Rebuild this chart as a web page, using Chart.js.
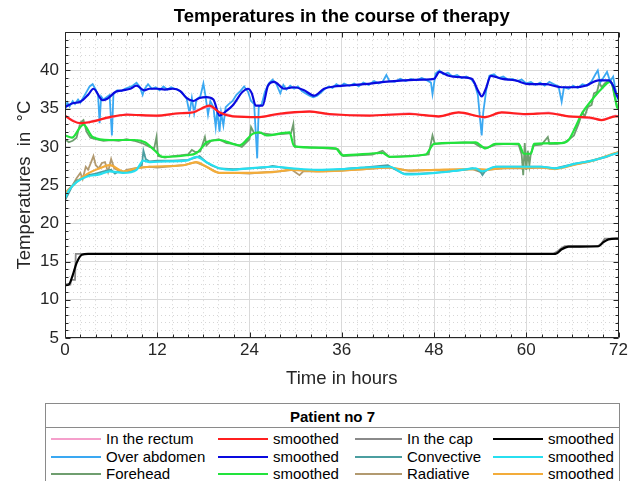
<!DOCTYPE html>
<html>
<head>
<meta charset="utf-8">
<title>Temperatures in the course of therapy</title>
<script src="https://cdn.jsdelivr.net/npm/chart.js@4"></script>
<style>
  body { margin: 0; background: #fff; font-family: "Liberation Sans", Arial, Helvetica, sans-serif; }
  #wrap { position: relative; width: 630px; height: 481px; overflow: hidden; background: #fff; }
  #myChart { position: absolute; left: 0; top: 0; }
  #legend { position: absolute; left: 45px; top: 403px; width: 573px; height: 100px; border: 1px solid #8a8a8a; background: #fff; }
  #legend .ttl { position: absolute; left: 0; top: 0; width: 100%; height: 23px; line-height: 25px; text-align: center;
    font-weight: bold; font-size: 15px; color: #000; border-bottom: 1px solid #8a8a8a; }
  #legend .ln { position: absolute; height: 0; border-top: 2px solid #000; }
  #legend .tx { position: absolute; font-size: 15px; line-height: 18px; color: #000; white-space: nowrap; }
</style>
</head>
<body>
<div id="wrap">
  <canvas id="myChart" width="630" height="400"></canvas>
  <div id="legend"><div class="ttl">Patient no 7</div></div>
</div>
<script>
// tick labels
let xTickLabels = [0, 12, 24, 36, 48, 60, 72]
let yTickLabels = [5, 10, 15, 20, 25, 30, 35, 40]

// In the rectum
let rectumT = [0, 1, 2, 3.5, 5.8, 8, 10, 12, 15, 16.6, 18.8, 20, 22, 25.3, 27.6, 31.8, 34.4, 39.6, 44.8, 48.6, 51.2, 54.6, 56.8, 59.9, 62.9, 65.5, 68.5, 69.8, 71.6, 72]
let rectumV = [34.0, 33.5, 33.0, 33.4, 33.8, 34.3, 34.1, 34.0, 34.4, 34.6, 35.3, 34.6, 34.0, 33.9, 34.2, 34.7, 34.2, 34.1, 34.4, 33.9, 34.5, 33.8, 34.5, 34.2, 34.5, 34.0, 33.7, 33.5, 34.1, 34.0]
let rectumSmT = [0, 1, 2, 3.5, 5.8, 8, 11.9, 14.9, 16.6, 18.8, 20.1, 21.8, 25.3, 27.6, 31.8, 34.4, 39.6, 44.8, 48.6, 51.2, 54.6, 56.8, 59.9, 62.9, 65.5, 68.5, 69.8, 71.6, 72]
let rectumSmV = [34.1, 33.4, 33.1, 33.3, 33.9, 34.2, 34.1, 34.4, 34.5, 35.4, 34.5, 34.0, 33.9, 34.3, 34.6, 34.3, 34.1, 34.3, 34.0, 34.5, 33.9, 34.5, 34.3, 34.4, 34.0, 33.8, 33.5, 34.0, 34.0]

// Over abdomen
let abdomenT = [0, 0.3, 0.6, 1, 1.3, 1.7, 2, 2.4, 2.8, 3.2, 3.6, 4, 4.3, 4.5, 4.7, 5, 5.4, 5.8, 6.1, 6.3,
  6.8, 7.3, 7.8, 8.3, 8.8, 9.3, 9.7, 10.1, 10.3, 10.8, 11.3, 11.8, 12.3, 12.8, 13.3, 13.8, 14.3, 14.8, 15.3, 15.8,
  16.2, 16.5, 16.8, 17.1, 17.6, 18, 18.3, 18.6, 18.9, 19.3, 19.6, 19.8, 20.1, 20.3, 20.6, 20.9, 21.3, 21.8, 22.3, 22.8,
  23.3, 23.8, 24.2, 24.6, 25, 25.2, 25.6, 26, 26.5, 27, 27.5, 28, 28.4, 28.8, 29.3, 29.8, 30.3, 30.8, 31.3, 31.8,
  32.3, 32.8, 33.3, 33.8, 34.3, 34.8, 35.3, 35.8, 36.3, 37, 37.6, 38.2, 38.8, 39.5, 40.2, 40.8, 41.3, 41.8, 42.2, 42.9,
  43.6, 44.3, 45, 45.7, 46.4, 47.1, 47.6, 47.8, 48.2, 48.7, 49.2, 49.8, 50.4, 51, 51.6, 52.2, 52.8, 53.3, 53.7, 54,
  54.2, 54.4, 54.8, 55.2, 55.8, 56.4, 57, 57.6, 58.2, 58.8, 59.4, 60, 60.6, 61.2, 61.8, 62.4, 63, 63.6, 64.2, 64.6,
  64.9, 65.5, 66.1, 66.7, 67.3, 67.9, 68.5, 69, 69.3, 69.6, 70, 70.5, 70.9, 71.3, 71.6, 72]
let abdomenV = [34.8, 35.8, 35.3, 36.0, 35.6, 36.2, 35.8, 36.5, 37.2, 37.9, 38.2, 37.5, 36.8, 33.1, 36.6, 36.2, 36.5, 36.8, 31.5, 36.9,
  37.4, 37.3, 37.6, 37.8, 38.0, 38.4, 37.9, 36.8, 37.5, 38.2, 37.6, 37.8, 37.4, 37.9, 37.5, 37.8, 37.6, 37.4, 37.0, 36.4,
  34.4, 36.4, 34.4, 36.2, 36.6, 38.3, 36.5, 34.2, 36.0, 35.2, 32.6, 34.8, 32.0, 34.5, 32.8, 35.2, 35.6, 36.0, 36.8, 37.3,
  37.9, 37.2, 36.0, 35.6, 28.5, 35.2, 35.6, 37.2, 38.3, 38.8, 38.2, 37.0, 38.1, 37.5, 38.0, 37.6, 37.9, 37.3, 37.0, 36.7,
  36.5, 36.7, 37.1, 37.6, 37.9, 37.7, 38.2, 37.9, 38.3, 38.0, 38.3, 37.9, 38.4, 38.1, 38.6, 38.3, 38.5, 39.4, 38.6, 38.5,
  38.9, 38.6, 38.9, 38.7, 39.0, 38.7, 38.4, 36.9, 39.6, 40.0, 39.5, 39.7, 39.2, 39.4, 39.0, 39.2, 38.9, 38.2, 36.8, 33.5,
  31.5, 34.5, 37.5, 39.3, 39.5, 39.0, 39.2, 38.8, 38.9, 38.6, 38.8, 38.3, 38.5, 38.1, 38.4, 38.0, 38.5, 38.2, 37.9, 35.9,
  37.8, 37.6, 38.0, 37.7, 38.2, 38.0, 38.6, 39.5, 40.0, 38.4, 39.0, 39.8, 38.6, 39.2, 37.5, 36.0]
let abdomenSmT = [0, 1, 2, 3, 3.7, 4.9, 5.5, 6.6, 7.5, 8.5, 9.3, 10.3, 11, 12, 13, 14, 15, 15.8, 16.7, 17.5,
  18.4, 19.3, 20.1, 21, 21.8, 23.1, 23.8, 24.3, 24.8, 25.7, 26.4, 27.2, 28.5, 29.8, 31.1, 32.4, 33.7, 35, 36.3, 38.9,
  41.5, 44.1, 46.7, 48, 48.7, 49.9, 51.6, 52.9, 53.8, 54.2, 54.7, 55.4, 56.9, 58.6, 60.3, 62.5, 64.6, 66.4, 67.7, 69.4,
  70.7, 71.3, 71.7, 72]
let abdomenSmV = [35.2, 35.7, 35.9, 36.8, 37.6, 36.1, 36.3, 37.2, 37.4, 37.6, 38.0, 37.4, 37.6, 37.6, 37.5, 37.6, 37.3, 36.4, 36.0, 36.4,
  36.5, 36.2, 34.1, 34.7, 35.4, 37.2, 37.6, 37.0, 35.4, 35.4, 38.0, 38.5, 37.6, 37.8, 37.4, 36.7, 37.6, 37.9, 38.0, 38.2,
  38.5, 38.7, 38.8, 38.9, 39.8, 39.3, 39.1, 38.9, 37.2, 36.6, 37.5, 39.3, 38.9, 38.7, 38.2, 38.2, 37.8, 37.8, 38.0, 38.7,
  38.7, 38.0, 36.9, 36.3]

// Forehead
let foreheadT = [0, 0.5, 1, 1.5, 2, 2.4, 2.8, 3.3, 4, 5, 6, 7, 8, 9, 10, 11, 11.6, 11.9, 12.1, 13,
  14, 15, 16, 16.5, 17, 17.6, 18.2, 18.4, 19, 20, 21, 22, 23, 24, 24.2, 24.6, 25.5, 27, 28.5, 29.4,
  29.7, 29.9, 31, 32.5, 34, 35.5, 36.2, 38, 40, 41.3, 42.2, 44, 46, 47.3, 47.8, 48.1, 50, 52, 53.2, 54,
  55, 56, 57.5, 59, 59.4, 59.6, 59.8, 60, 60.2, 60.4, 60.6, 61, 62, 62.8, 63, 64, 65, 65.6, 66.2, 66.8,
  67.3, 67.6, 68, 68.5, 68.8, 69.2, 69.5, 69.8, 70.2, 70.6, 70.9, 71.2, 71.5, 71.8, 72]
let foreheadV = [31.0, 30.6, 30.8, 31.2, 33.2, 33.5, 32.0, 31.2, 31.0, 30.8, 30.9, 30.8, 31.0, 30.8, 30.5, 30.0, 29.8, 31.3, 28.8, 28.6,
  28.8, 28.9, 29.0, 29.6, 29.3, 29.4, 31.3, 30.2, 30.8, 31.0, 30.5, 30.4, 30.0, 31.0, 32.6, 31.8, 31.8, 31.6, 31.7, 31.8,
  33.0, 30.0, 30.0, 29.9, 29.8, 29.7, 28.8, 28.9, 29.0, 29.5, 28.7, 28.8, 28.9, 29.0, 31.5, 30.4, 30.5, 30.6, 30.5, 30.0,
  29.9, 30.3, 30.4, 30.3, 29.0, 26.3, 30.5, 27.0, 29.5, 27.6, 29.2, 30.2, 30.3, 31.3, 30.4, 30.4, 30.6, 31.0, 31.5, 33.0,
  34.5, 34.0, 35.2, 35.5, 37.0, 37.2, 38.4, 37.8, 38.3, 38.6, 38.8, 38.0, 36.5, 35.4, 35.0]
let foreheadSmT = [0, 0.9, 2, 2.4, 3.6, 5.8, 9, 10.4, 11.7, 12.7, 15.8, 17.1, 17.9, 18.4, 20.1, 21.8, 22.7, 24.4, 25.3, 26.2,
  29.2, 29.8, 32.8, 35.2, 36.1, 41.3, 42.2, 46.9, 48, 53.4, 54.7, 56, 59, 59.7, 60.6, 61, 64.6, 65.5, 66.4, 67.2,
  68.5, 69.8, 70.9, 71.3, 71.8, 72]
let foreheadSmV = [31.5, 31.2, 32.6, 32.9, 31.3, 30.9, 30.9, 30.6, 29.5, 28.7, 28.9, 29.2, 30.0, 30.6, 30.9, 30.4, 30.2, 31.7, 31.9, 31.5,
  31.9, 30.1, 29.9, 29.8, 28.9, 29.2, 28.7, 29.0, 30.4, 30.6, 29.8, 30.4, 30.4, 29.1, 29.1, 30.4, 30.5, 30.9, 32.6, 34.3,
  36.1, 37.6, 38.5, 37.8, 35.2, 35.0]

// In the cap
let capT = [0, 0.7, 0.8, 1.3, 1.4, 2, 63.5, 64, 64.5, 65, 69.3, 69.8, 70.2, 72]
let capV = [12.0, 12.0, 12.6, 12.6, 16.0, 16.0, 16.0, 16.3, 16.7, 17.0, 17.0, 17.4, 18.0, 18.0]
let capSmT = [0, 0.5, 1, 1.5, 2.2, 3, 63.8, 64.6, 65.5, 69.4, 70, 70.7, 72]
let capSmV = [11.9, 12.0, 13.2, 14.8, 15.9, 16.0, 16.0, 16.6, 16.95, 17.0, 17.5, 17.9, 18.0]

// Convective
let convT = [0, 0.5, 1, 1.5, 2, 3, 4, 5, 6, 6.5, 7, 8, 9, 10, 10.2, 10.5, 11, 12, 14, 16,
  17, 17.5, 18.4, 19, 20, 22, 24, 26, 27, 29, 31, 33, 35, 37, 39, 41, 42, 43, 44, 46,
  48, 50, 52, 53, 54, 54.3, 54.7, 56, 58, 60, 62, 63.7, 65.5, 66.4, 68.5, 70.5, 72]
let convV = [23.0, 24.0, 25.0, 25.6, 25.8, 26.3, 26.5, 26.8, 27.0, 26.5, 26.8, 26.7, 27.0, 27.6, 29.5, 28.4, 28.1, 28.2, 28.2, 28.3,
  28.6, 28.8, 28.0, 27.6, 27.2, 27.1, 27.2, 27.3, 27.5, 27.2, 27.0, 26.9, 27.0, 27.2, 27.3, 27.5, 27.6, 27.0, 26.5, 26.5,
  26.6, 26.8, 27.0, 27.2, 26.8, 26.3, 26.9, 27.4, 27.4, 27.4, 27.4, 27.2, 27.6, 27.8, 28.2, 28.8, 29.3]
let convSmT = [0, 0.5, 1.5, 2.8, 4.5, 5.8, 7.6, 9.3, 10.2, 11, 13.2, 15.8, 17.1, 18.4, 20.1, 21.8, 24, 27.2, 29.5, 32.8,
  36, 39, 42.2, 44.4, 48.2, 51, 53.4, 54.3, 56, 62, 63.7, 66.4, 69, 71.6, 72]
let convSmV = [23.3, 24.3, 25.4, 26.1, 26.4, 26.8, 26.6, 27.0, 28.2, 28.0, 28.1, 28.2, 28.7, 28.0, 27.2, 27.0, 27.2, 27.4, 27.2, 27.0,
  27.1, 27.3, 27.4, 26.4, 26.6, 26.9, 27.2, 26.8, 27.4, 27.4, 27.2, 27.8, 28.3, 29.1, 29.2]

// Radiative
let radT = [0, 0.5, 1, 1.5, 2, 2.3, 2.7, 3, 3.4, 3.7, 4, 4.4, 4.8, 5.2, 5.6, 6, 6.4, 7, 7.5, 8,
  9, 10, 11, 12, 14, 15.5, 17, 18.4, 19.5, 20, 22, 24, 26, 28, 29.5, 30.5, 31, 33, 36, 39,
  42, 44.8, 48, 50, 53, 54.3, 55, 57, 60, 62, 63.7, 65, 66.4, 68, 69, 70.5, 71.6, 72]
let radV = [24.0, 24.5, 25.0, 25.9, 26.6, 25.8, 27.4, 27.0, 28.0, 28.8, 27.6, 27.2, 27.9, 28.0, 26.7, 28.4, 27.2, 26.9, 26.6, 27.0,
  27.2, 27.3, 27.4, 27.3, 27.5, 27.6, 28.0, 27.4, 26.8, 26.6, 26.6, 26.5, 26.7, 26.8, 27.0, 26.3, 26.8, 26.8, 26.9, 27.1,
  27.3, 26.9, 27.0, 27.0, 27.1, 26.6, 27.0, 27.2, 27.2, 27.3, 27.1, 27.4, 27.7, 28.0, 28.3, 28.7, 29.2, 29.3]
let radSmT = [0, 1.5, 2.8, 4.5, 5.8, 7.6, 9.3, 11, 15.4, 17.1, 18.4, 20.1, 24, 27, 29.5, 33, 36, 39, 42.2, 44.8,
  48.2, 53.4, 55, 56.5, 62, 63.7, 66.4, 69, 71.6, 72]
let radSmV = [23.9, 25.4, 26.4, 27.2, 27.6, 26.8, 27.2, 27.4, 27.6, 28.0, 27.4, 26.6, 26.6, 26.7, 27.0, 26.8, 26.9, 27.1, 27.3, 26.9,
  27.0, 27.1, 27.0, 27.2, 27.3, 27.1, 27.7, 28.3, 29.2, 29.3]

let series = [
  { label: "In the rectum", t: rectumT, v: rectumV, color: "#f59fcb", smooth: false },
  { label: "smoothed", t: rectumSmT, v: rectumSmV, color: "#ff1f1f", smooth: true },
  { label: "Over abdomen", t: abdomenT, v: abdomenV, color: "#3aa8f2", smooth: false },
  { label: "smoothed", t: abdomenSmT, v: abdomenSmV, color: "#0a0adf", smooth: true },
  { label: "Forehead", t: foreheadT, v: foreheadV, color: "#6f9e6f", smooth: false },
  { label: "smoothed", t: foreheadSmT, v: foreheadSmV, color: "#22e33c", smooth: true },
  { label: "In the cap", t: capT, v: capV, color: "#8a8a8a", smooth: false },
  { label: "smoothed", t: capSmT, v: capSmV, color: "#000000", smooth: true },
  { label: "Convective", t: convT, v: convV, color: "#4b9ea0", smooth: false },
  { label: "smoothed", t: convSmT, v: convSmV, color: "#27dff0", smooth: true },
  { label: "Radiative", t: radT, v: radV, color: "#b29a70", smooth: false },
  { label: "smoothed", t: radSmT, v: radSmV, color: "#f3ac3a", smooth: true }
]

let fontFam = '"Liberation Sans", Arial, Helvetica, sans-serif'
let textCol = "#262626"

function isOn(value, list) {
  return list.some(l => Math.abs(l - value) < 1e-6)
}

let datasets = series.map(s => ({
  label: s.label,
  data: s.t.map((x, i) => ({ x: x, y: s.v[i] })),
  borderColor: s.color,
  backgroundColor: s.color,
  borderWidth: s.smooth ? 2.2 : 1.8,
  pointRadius: 0,
  tension: 0,
  cubicInterpolationMode: s.smooth ? "monotone" : "default",
  order: s.smooth ? 1 : 2
}))

// axes box with inward tick marks, like the original figure
let boxPlugin = {
  id: "box",
  afterDatasetsDraw(chart) {
    let ctx = chart.ctx
    let a = chart.chartArea
    let sx = chart.scales.x
    let sy = chart.scales.y
    ctx.save()
    ctx.strokeStyle = textCol
    ctx.lineWidth = 1
    ctx.beginPath()
    let l = Math.round(a.left) + 0.5, r = Math.round(a.right) - 0.5
    let t = Math.round(a.top) + 0.5, b = Math.round(a.bottom) - 0.5
    ctx.rect(l, t, r - l, b - t)
    sx.ticks.forEach(tk => {
      let px = Math.round(sx.getPixelForValue(tk.value)) + 0.5
      let len = isOn(tk.value, xTickLabels) ? 5 : 3
      ctx.moveTo(px, b); ctx.lineTo(px, b - len)
      ctx.moveTo(px, t); ctx.lineTo(px, t + len)
    })
    sy.ticks.forEach(tk => {
      let py = Math.round(sy.getPixelForValue(tk.value)) + 0.5
      let len = tk.value % 5 === 0 ? 5 : 3
      ctx.moveTo(l, py); ctx.lineTo(l + len, py)
      ctx.moveTo(r, py); ctx.lineTo(r - len, py)
    })
    ctx.stroke()
    ctx.restore()
  }
}

var graf = document.getElementById("myChart").getContext("2d")
var myChart = new Chart(graf, {
  type: "line",
  data: { datasets: datasets },
  options: {
    responsive: false,
    animation: false,
    devicePixelRatio: 1,
    layout: { padding: { left: 0, right: 10, top: 0, bottom: 0 } },
    plugins: {
      legend: { display: false },
      tooltip: { enabled: false },
      title: {
        display: true,
        text: "Temperatures in the course of therapy",
        fullSize: false,
        color: "#000",
        font: { family: fontFam, size: 18.5, weight: "bold" },
        padding: { top: 6, bottom: 4 }
      }
    },
    scales: {
      x: {
        type: "linear",
        min: 0,
        max: 72,
        afterFit: s => { s.height = 62 },
        ticks: {
          stepSize: 2,
          autoSkip: false,
          maxRotation: 0,
          padding: 2,
          color: textCol,
          font: { family: fontFam, size: 17 },
          callback: v => isOn(v, xTickLabels) ? String(Math.round(v)) : ""
        },
        grid: {
          drawTicks: false,
          lineWidth: 1,
          color: c => (c.tick && isOn(c.tick.value, xTickLabels)) ? "#dadada" : "#d6d6d6"
        },
        border: { display: false, dash: c => (c.tick && !isOn(c.tick.value, xTickLabels)) ? [1, 3] : [] },
        title: {
          display: true,
          text: "Time in hours",
          color: textCol,
          font: { family: fontFam, size: 18.5 },
          padding: { top: 0, bottom: 10 }
        }
      },
      y: {
        type: "linear",
        min: 5,
        max: 45,
        afterFit: s => { s.width = 65 },
        ticks: {
          stepSize: 1,
          autoSkip: false,
          padding: 6,
          color: textCol,
          font: { family: fontFam, size: 17 },
          callback: v => isOn(v, yTickLabels) ? String(Math.round(v)) : ""
        },
        grid: {
          drawTicks: false,
          lineWidth: 1,
          color: c => (c.tick && c.tick.value % 5 === 0) ? "#dadada" : "#d6d6d6"
        },
        border: { display: false, dash: c => (c.tick && c.tick.value % 5 !== 0) ? [1, 3] : [] },
        title: {
          display: true,
          text: "Temperatures  in  \u00B0C",
          color: textCol,
          font: { family: fontFam, size: 18.5 },
          padding: { top: 14, bottom: 0 }
        }
      }
    }
  },
  plugins: [boxPlugin]
})

// legend table: raw signal and its smoothed version side by side
let legendCols = [[0, 2, 4], [1, 3, 5], [6, 8, 10], [7, 9, 11]]
let legendLineX = [5, 172, 309, 447]
let legendTextX = [60, 227, 361, 502]
let legendRowY = [35, 53, 70]
let legendBox = document.getElementById("legend")
legendCols.forEach((col, ci) => {
  col.forEach((di, ri) => {
    let ds = myChart.data.datasets[di]
    let ln = document.createElement("div")
    ln.className = "ln"
    ln.style.left = legendLineX[ci] + "px"
    ln.style.width = (legendTextX[ci] - legendLineX[ci] - 5) + "px"
    ln.style.top = (legendRowY[ri] - 1) + "px"
    ln.style.borderTopColor = ds.borderColor
    legendBox.appendChild(ln)
    let tx = document.createElement("div")
    tx.className = "tx"
    tx.style.left = legendTextX[ci] + "px"
    tx.style.top = (legendRowY[ri] - 9) + "px"
    tx.textContent = ds.label
    legendBox.appendChild(tx)
  })
})
</script>
</body>
</html>
